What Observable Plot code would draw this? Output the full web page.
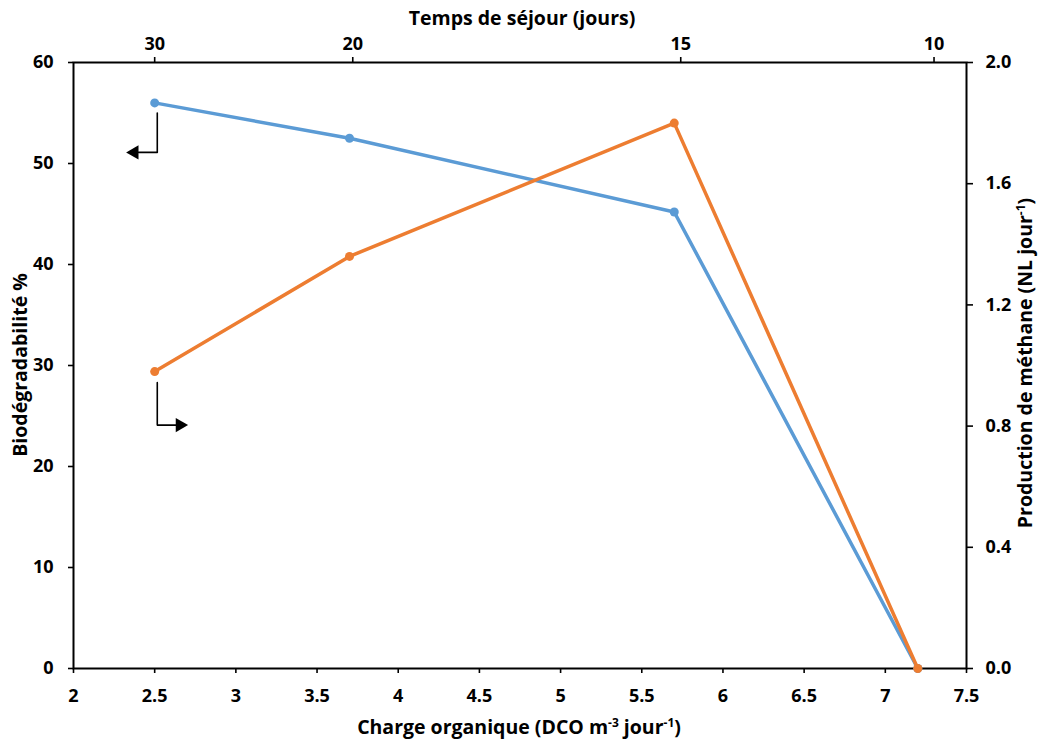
<!DOCTYPE html>
<html><head><meta charset="utf-8">
<script src="https://cdn.jsdelivr.net/npm/d3@7"></script>
<script src="https://cdn.jsdelivr.net/npm/@observablehq/plot@0.6"></script>
<style>body{margin:0;background:#fff}</style>
</head><body><div id="chart"></div>
<script>
// ---- data ----
const charge = [2.5, 3.7, 5.7, 7.2];              // Charge organique (DCO m-3 jour-1)
const biodeg = [56, 52.5, 45.2, 0];                // Biodégradabilité %
const methane = [0.98, 1.36, 1.80, 0];             // Production de méthane (NL jour-1)
const xTicks = [2, 2.5, 3, 3.5, 4, 4.5, 5, 5.5, 6, 6.5, 7, 7.5];
const yLeftTicks = [0, 10, 20, 30, 40, 50, 60];
const yRightTicks = [0, 0.4, 0.8, 1.2, 1.6, 2.0];
const sejourLabels = [30, 20, 15, 10];             // Temps de séjour (jours)
const sejourCharge = [2.5, 3.72, 5.74, 7.3];       // where they sit on the charge axis
// annotation arrows (data coordinates)
const arrowBioX = [2.516, 2.516, 2.40];
const arrowBioY = [55.0, 51.1, 51.1];
const arrowBioHead = [2.375, 51.1];
const arrowMetX = [2.516, 2.516, 2.63];
const arrowMetY = [28.3, 24.1, 24.1];
const arrowMetHead = [2.655, 24.1];

const k = 60 / 2; // right axis (0–2) mapped onto left axis (0–60)
const blue = "#5B9BD5", orange = "#ED7D31";
const bioData = charge.map((c, i) => ({x: c, y: biodeg[i]}));
const metData = charge.map((c, i) => ({x: c, y: methane[i] * k}));
const sejourMap = new Map(sejourCharge.map((c, i) => [c, sejourLabels[i]]));
const arrowBio = arrowBioX.map((x, i) => ({x, y: arrowBioY[i]}));
const arrowMet = arrowMetX.map((x, i) => ({x, y: arrowMetY[i]}));

const W = 1038, H = 740;
const font = "'Open Sans', Lato, sans-serif";
const tf = 18;
const plot = Plot.plot({
  width: W, height: H,
  marginLeft: 73, marginRight: 72, marginTop: 62, marginBottom: 72,
  style: {fontFamily: font, fontSize: tf + "px", fontWeight: "bold", color: "black", background: "white"},
  x: {domain: [2, 7.5]},
  y: {domain: [0, 60]},
  marks: [
    Plot.axisX({anchor: "bottom", ticks: xTicks, tickSize: 5, tickPadding: 16, strokeWidth: 1.6, fontSize: tf, label: null, tickFormat: d => String(d)}),
    Plot.axisX({anchor: "top", ticks: sejourCharge, tickSize: 6, tickPadding: 7, strokeWidth: 1.6, fontSize: tf, label: null, tickFormat: d => String(sejourMap.get(d))}),
    Plot.axisY({anchor: "left", ticks: yLeftTicks, tickSize: 5, tickPadding: 15, strokeWidth: 1.6, fontSize: tf, label: null, tickFormat: d => String(d)}),
    Plot.axisY({anchor: "right", ticks: yRightTicks.map(t => t * k), tickSize: 6, tickPadding: 13, strokeWidth: 1.6, fontSize: tf, label: null, tickFormat: d => (d / k).toFixed(1)}),
    Plot.frame({stroke: "black", strokeWidth: 2}),
    Plot.line(bioData, {x: "x", y: "y", stroke: blue, strokeWidth: 3.5}),
    Plot.dot(bioData, {x: "x", y: "y", r: 4.5, fill: blue}),
    Plot.line(metData, {x: "x", y: "y", stroke: orange, strokeWidth: 3.5}),
    Plot.dot(metData, {x: "x", y: "y", r: 4.5, fill: orange}),
    Plot.line(arrowBio, {x: "x", y: "y", stroke: "black", strokeWidth: 1.6}),
    Plot.dot([arrowBioHead], {x: d => d[0], y: d => d[1], symbol: "triangle", r: 5.3, fill: "black", rotate: -90}),
    Plot.line(arrowMet, {x: "x", y: "y", stroke: "black", strokeWidth: 1.6}),
    Plot.dot([arrowMetHead], {x: d => d[0], y: d => d[1], symbol: "triangle", r: 5.3, fill: "black", rotate: 90})
  ]
});
document.getElementById("chart").appendChild(plot);

// axis titles with superscripts
const svg = d3.select(plot);
function build(x, y, rot, segs) {
  const t = svg.append("text")
    .attr("transform", `translate(${x},${y}) rotate(${rot})`)
    .attr("text-anchor", "middle")
    .attr("font-family", font).attr("font-size", 19.5).attr("font-weight", "bold").attr("fill", "black");
  let shifted = false;
  segs.forEach(s => {
    const sp = t.append("tspan");
    if (s.sup) { sp.attr("font-size", 12).attr("dy", -7).text(s.sup); shifted = true; }
    else { sp.attr("dy", shifted ? 7 : 0).text(s.t); shifted = false; }
  });
}
build(522, 25, 0, [{t: "Temps de séjour (jours)"}]);
build(519, 734, 0, [{t: "Charge organique (DCO m"}, {sup: "-3"}, {t: " jour"}, {sup: "-1"}, {t: ")"}]);
build(27, 365, -90, [{t: "Biodégradabilité %"}]);
build(1032, 363, -90, [{t: "Production de méthane (NL jour"}, {sup: "-1"}, {t: ")"}]);
</script></body></html>
